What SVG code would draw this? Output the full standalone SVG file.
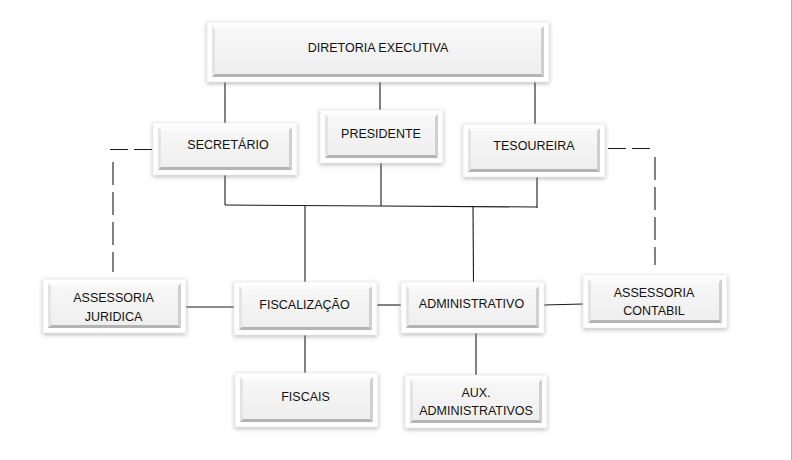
<svg xmlns="http://www.w3.org/2000/svg" width="792" height="460" viewBox="0 0 792 460">
<defs>
  <filter id="sh" x="-10%" y="-20%" width="120%" height="145%">
    <feDropShadow dx="0" dy="1.5" stdDeviation="2" flood-color="#808080" flood-opacity="0.55"/>
  </filter>
  <linearGradient id="face" x1="0" y1="0" x2="0" y2="1">
    <stop offset="0" stop-color="#f8f8f8"/>
    <stop offset="1" stop-color="#eeeeee"/>
  </linearGradient>
</defs>
<style>
  .outer { fill: #ffffff; stroke: #e6e6e6; stroke-width: 0.6; filter: url(#sh); }
  .face { fill: url(#face); }
  .bb { fill: #b4b4b4; }
  .br { fill: #cfcfcf; }
  .bl { fill: #e4e4e4; }
  .bt { fill: #fbfbfb; }
  .t { font-family: "Liberation Sans", Arial, sans-serif; font-size: 12.5px; fill: #111111; text-anchor: middle; }
  .c { stroke: #1a1a1a; stroke-width: 1.1; fill: none; }
  .dh { stroke: #1a1a1a; stroke-width: 1.1; fill: none; stroke-dasharray: 18 6; }
  .dv { stroke: #1a1a1a; stroke-width: 1.1; fill: none; stroke-dasharray: 23 7; }
</style>
<rect x="0" y="0" width="792" height="460" fill="#ffffff"/>
<line x1="791.5" y1="0" x2="791.5" y2="460" stroke="#b4b4b4" stroke-width="1"/>

<g id="connectors">
  <line class="c" x1="225" y1="82" x2="225" y2="123"/>
  <line class="c" x1="380" y1="81" x2="380" y2="110"/>
  <line class="c" x1="535" y1="82" x2="535" y2="124"/>
  <line class="c" x1="225" y1="175" x2="225" y2="205"/>
  <line class="c" x1="381" y1="163" x2="381" y2="206"/>
  <line class="c" x1="537" y1="177" x2="537" y2="208"/>
  <polyline class="c" points="225,205 381,206 537,207"/>
  <line class="c" x1="305" y1="206" x2="305" y2="282"/>
  <line class="c" x1="473" y1="206.5" x2="473.5" y2="282"/>
  <line class="c" x1="186" y1="307" x2="234" y2="307"/>
  <line class="c" x1="377" y1="305" x2="401" y2="305"/>
  <line class="c" x1="544" y1="305" x2="583" y2="304"/>
  <line class="c" x1="305" y1="335" x2="305" y2="373"/>
  <line class="c" x1="476" y1="333" x2="476" y2="375"/>
  <line class="dh" x1="110" y1="149.5" x2="153" y2="149.5"/>
  <line class="dv" x1="113" y1="162" x2="113" y2="272"/>
  <line class="dh" x1="608" y1="148.5" x2="653" y2="148.5"/>
  <line class="dv" x1="655" y1="157" x2="655" y2="265"/>
</g>

<g id="diretoria">
  <rect class="outer" x="207" y="22" width="342" height="60"/>
  <rect class="face" x="212" y="26" width="332" height="51"/>
  <polygon class="bt" points="212,26 544,26 541,29 215,29"/>
  <polygon class="bl" points="212,26 215,29 215,74 212,77"/>
  <polygon class="br" points="544,26 544,77 541,74 541,29"/>
  <polygon class="bb" points="212,77 544,77 541,74 215,74"/>
  <text class="t" x="378" y="51.5">DIRETORIA EXECUTIVA</text>
</g>

<g id="secretario">
  <rect class="outer" x="153" y="123" width="144" height="52"/>
  <rect class="face" x="158" y="127" width="134" height="43"/>
  <polygon class="bt" points="158,127 292,127 289,130 161,130"/>
  <polygon class="bl" points="158,127 161,130 161,167 158,170"/>
  <polygon class="br" points="292,127 292,170 289,167 289,130"/>
  <polygon class="bb" points="158,170 292,170 289,167 161,167"/>
  <text class="t" x="228" y="148.5">SECRETÁRIO</text>
</g>

<g id="presidente">
  <rect class="outer" x="320" y="110" width="123" height="53"/>
  <rect class="face" x="325" y="114" width="113" height="44"/>
  <polygon class="bt" points="325,114 438,114 435,117 328,117"/>
  <polygon class="bl" points="325,114 328,117 328,155 325,158"/>
  <polygon class="br" points="438,114 438,158 435,155 435,117"/>
  <polygon class="bb" points="325,158 438,158 435,155 328,155"/>
  <text class="t" x="381" y="137.5">PRESIDENTE</text>
</g>

<g id="tesoureira">
  <rect class="outer" x="463" y="124" width="142" height="53"/>
  <rect class="face" x="468" y="128" width="132" height="44"/>
  <polygon class="bt" points="468,128 600,128 597,131 471,131"/>
  <polygon class="bl" points="468,128 471,131 471,169 468,172"/>
  <polygon class="br" points="600,128 600,172 597,169 597,131"/>
  <polygon class="bb" points="468,172 600,172 597,169 471,169"/>
  <text class="t" x="534" y="149.5">TESOUREIRA</text>
</g>

<g id="assessoria-juridica">
  <rect class="outer" x="43" y="279" width="143" height="54"/>
  <rect class="face" x="48" y="283" width="133" height="45"/>
  <polygon class="bt" points="48,283 181,283 178,286 51,286"/>
  <polygon class="bl" points="48,283 51,286 51,325 48,328"/>
  <polygon class="br" points="181,283 181,328 178,325 178,286"/>
  <polygon class="bb" points="48,328 181,328 178,325 51,325"/>
  <text class="t" x="113.5" y="302">ASSESSORIA</text>
  <text class="t" x="113.5" y="321">JURIDICA</text>
</g>

<g id="fiscalizacao">
  <rect class="outer" x="234" y="282" width="143" height="53"/>
  <rect class="face" x="239" y="286" width="133" height="44"/>
  <polygon class="bt" points="239,286 372,286 369,289 242,289"/>
  <polygon class="bl" points="239,286 242,289 242,327 239,330"/>
  <polygon class="br" points="372,286 372,330 369,327 369,289"/>
  <polygon class="bb" points="239,330 372,330 369,327 242,327"/>
  <text class="t" x="304.5" y="308.5">FISCALIZAÇÃO</text>
</g>

<g id="fiscais">
  <rect class="outer" x="235" y="373" width="143" height="54"/>
  <rect class="face" x="240" y="377" width="133" height="45"/>
  <polygon class="bt" points="240,377 373,377 370,380 243,380"/>
  <polygon class="bl" points="240,377 243,380 243,419 240,422"/>
  <polygon class="br" points="373,377 373,422 370,419 370,380"/>
  <polygon class="bb" points="240,422 373,422 370,419 243,419"/>
  <text class="t" x="305.5" y="400.5">FISCAIS</text>
</g>

<g id="administrativo">
  <rect class="outer" x="401" y="282" width="143" height="51"/>
  <rect class="face" x="406" y="286" width="133" height="42"/>
  <polygon class="bt" points="406,286 539,286 536,289 409,289"/>
  <polygon class="bl" points="406,286 409,289 409,325 406,328"/>
  <polygon class="br" points="539,286 539,328 536,325 536,289"/>
  <polygon class="bb" points="406,328 539,328 536,325 409,325"/>
  <text class="t" x="471.5" y="307.5">ADMINISTRATIVO</text>
</g>

<g id="assessoria-contabil">
  <rect class="outer" x="583" y="275" width="144" height="53"/>
  <rect class="face" x="588" y="279" width="134" height="44"/>
  <polygon class="bt" points="588,279 722,279 719,282 591,282"/>
  <polygon class="bl" points="588,279 591,282 591,320 588,323"/>
  <polygon class="br" points="722,279 722,323 719,320 719,282"/>
  <polygon class="bb" points="588,323 722,323 719,320 591,320"/>
  <text class="t" x="654" y="297">ASSESSORIA</text>
  <text class="t" x="654" y="315">CONTABIL</text>
</g>

<g id="aux-administrativos">
  <rect class="outer" x="405" y="375" width="142" height="53"/>
  <rect class="face" x="410" y="379" width="132" height="44"/>
  <polygon class="bt" points="410,379 542,379 539,382 413,382"/>
  <polygon class="bl" points="410,379 413,382 413,420 410,423"/>
  <polygon class="br" points="542,379 542,423 539,420 539,382"/>
  <polygon class="bb" points="410,423 542,423 539,420 413,420"/>
  <text class="t" x="476" y="397">AUX.</text>
  <text class="t" x="476" y="415">ADMINISTRATIVOS</text>
</g>
</svg>
